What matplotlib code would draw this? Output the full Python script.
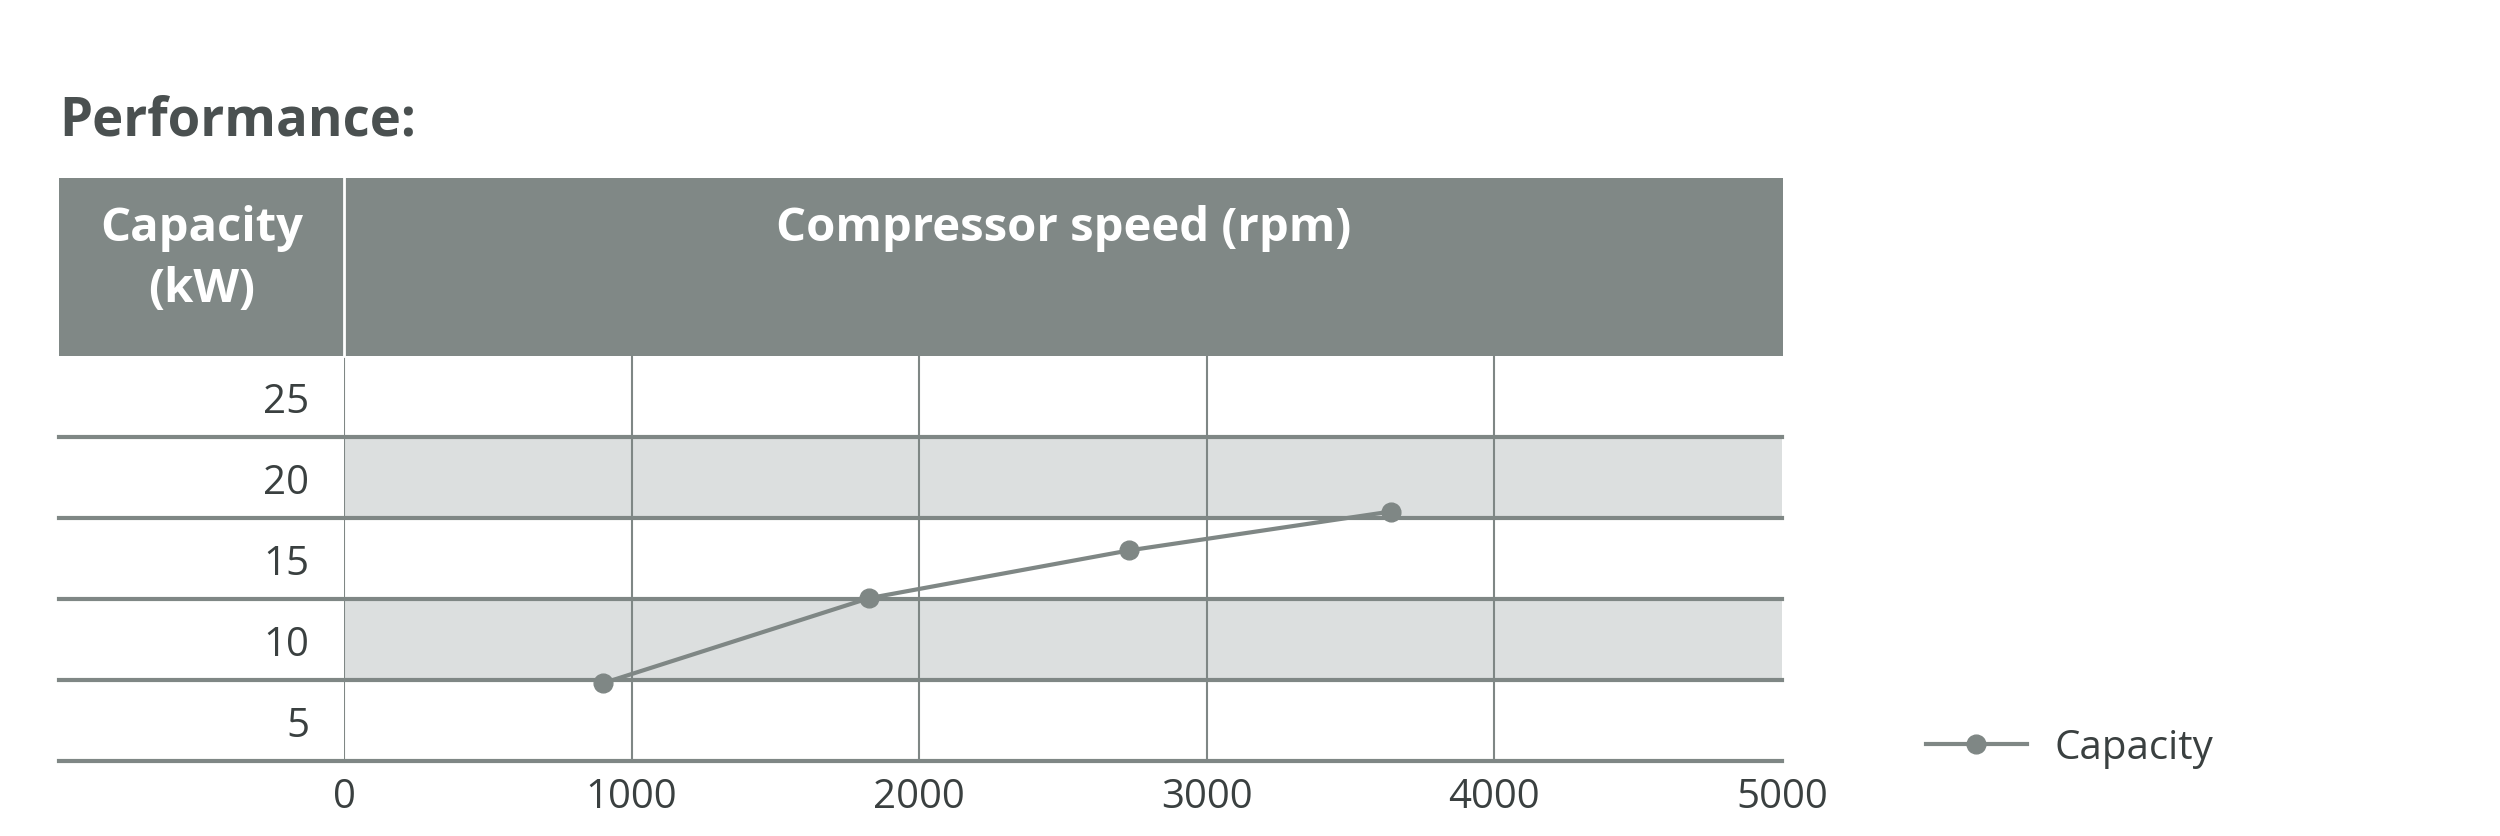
import matplotlib.pyplot as plt
from matplotlib.patches import Rectangle
from matplotlib.lines import Line2D

# values
speed_rpm = [900, 1825, 2730, 3640]
capacity_kw = [7.3, 12.55, 15.5, 17.9]
x_ticks = [0, 1000, 2000, 3000, 4000, 5000]
y_ticks = [5, 10, 15, 20, 25]
row_edges = [2.5, 7.5, 12.5, 17.5, 22.5]
shaded_rows = [(7.5, 12.5), (17.5, 22.5)]

HEADER = '#808886'
LINE = '#7f8785'
BAND = '#dcdfdf'
TEXT = '#3a4040'
FONT = ['Open Sans', 'DejaVu Sans']

plt.rcParams['font.family'] = FONT

W, H = 2500, 837
fig = plt.figure(figsize=(W / 100, H / 100), dpi=100)

# plot area in pixels
px_left, px_right, px_top, px_bottom = 344, 1782, 357, 762
ax = fig.add_axes([px_left / W, 1 - px_bottom / H,
                   (px_right - px_left) / W, (px_bottom - px_top) / H])
ax.set_xlim(0, 5000)
ax.set_ylim(2.5, 27.5)

for lo, hi in shaded_rows:
    ax.axhspan(lo, hi, color=BAND, lw=0, zorder=0)

for x in x_ticks[:-1]:
    ax.axvline(x, color=LINE, lw=1.5, zorder=1)

# horizontal rules run through the label column too
left_ext = (59 - px_left) / (px_right - px_left)
for y in row_edges:
    ax.axhline(y, xmin=left_ext, xmax=1, color=LINE, lw=3, clip_on=False, zorder=2)

ax.plot(speed_rpm, capacity_kw, color=LINE, lw=3, marker='o', ms=13.5,
        label='Capacity', zorder=3)

for s in ax.spines.values():
    s.set_visible(False)

ax.set_xticks(x_ticks)
ax.set_yticks(y_ticks)
ax.tick_params(length=0, labelsize=29, labelcolor=TEXT)
ax.tick_params(axis='y', pad=25)
ax.tick_params(axis='x', pad=11)

# header band
hx0, hx1, hy0, hy1 = 59, 1783, 179, 357
fig.add_artist(Rectangle((hx0 / W, 1 - hy1 / H), (hx1 - hx0) / W, (hy1 - hy0) / H,
                         transform=fig.transFigure, color=HEADER, lw=0))
fig.add_artist(Line2D([px_left / W, px_left / W], [1 - hy1 / H, 1 - hy0 / H],
                      transform=fig.transFigure, color='white', lw=2))

fig.text((hx0 + px_left) / 2 / W, 1 - 229 / H, 'Capacity', color='white',
         fontsize=34, fontweight='bold', ha='center', va='center')
fig.text((hx0 + px_left) / 2 / W, 1 - 290 / H, '(kW)', color='white',
         fontsize=34, fontweight='bold', ha='center', va='center')
fig.text((px_left + hx1) / 2 / W, 1 - 229 / H, 'Compressor speed (rpm)', color='white',
         fontsize=34, fontweight='bold', ha='center', va='center')

fig.text(59 / W, 1 - 136 / H, 'Performance:', color='#4a5050',
         fontsize=38, fontweight='bold', ha='left', va='baseline')

ax.legend(loc='center left', bbox_to_anchor=(1926 / W, 1 - 749 / H),
          bbox_transform=fig.transFigure, frameon=False, fontsize=29,
          handlelength=2.5, handletextpad=0.7, borderpad=0, borderaxespad=0,
          labelcolor=TEXT)

fig.savefig('out.png', dpi=100, facecolor='white')
